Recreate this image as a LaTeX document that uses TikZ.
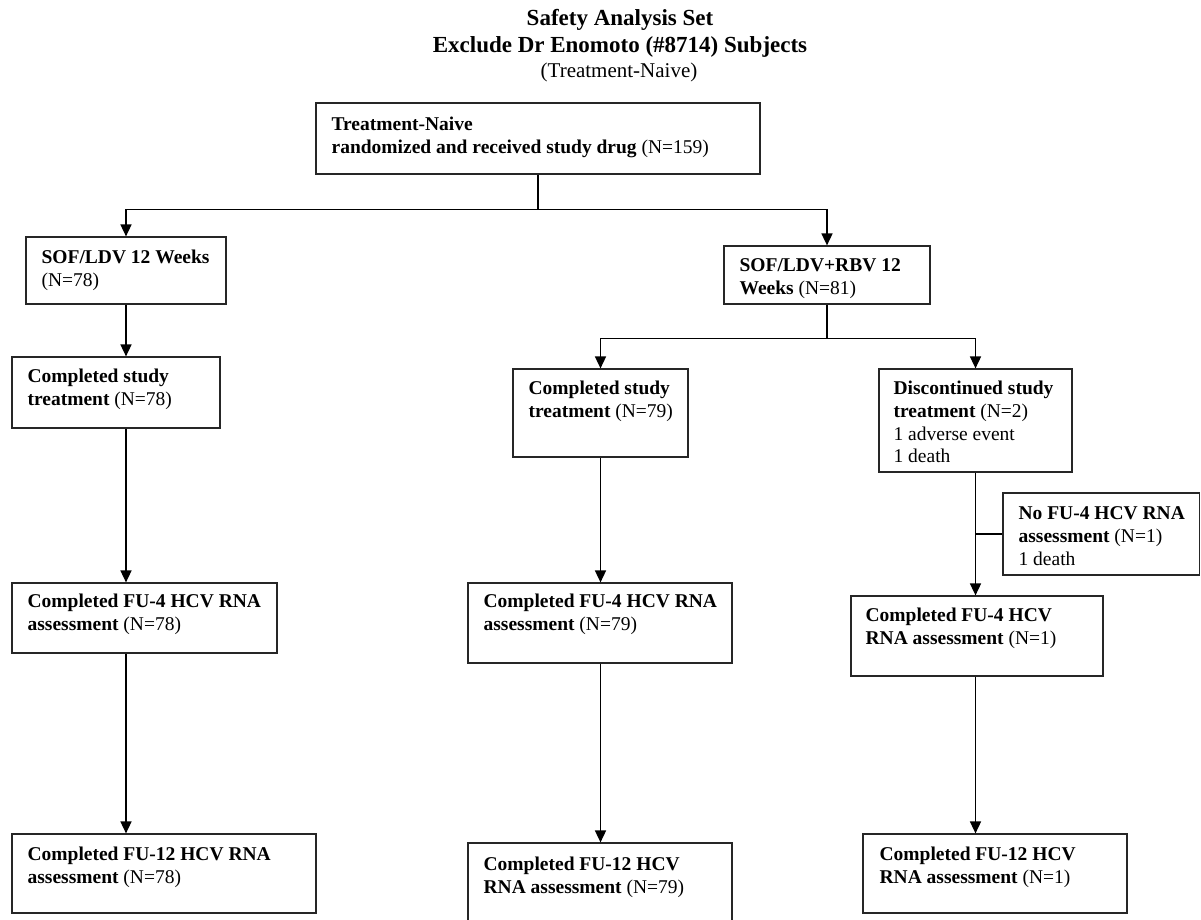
\documentclass[tikz,border=0pt]{standalone}
\usepackage{fontspec}
\setmainfont{Liberation Serif}
\usetikzlibrary{arrows.meta,fit}
\begin{document}
\begin{tikzpicture}[x=1pt,y=-1pt,
  box/.style={draw=black!85, line width=1.2pt, inner sep=0pt},
  txt/.style={anchor=north west, inner sep=0pt, align=left,
              font=\fontsize{19.5}{22.8}\selectfont},
  ttl/.style={anchor=base, inner sep=0pt, font=\fontsize{23}{26}\selectfont},
  link/.style={line width=1.6pt},
  arr/.style={link, -{Triangle[length=12pt,width=11pt]}}]
\useasboundingbox (0,0) rectangle (1201,919);

% heading
\node[ttl] (title1) at (620,25) {\textbf{Safety Analysis Set}};
\node[ttl] (title2) at (620,52) {\textbf{Exclude Dr Enomoto (\#8714) Subjects}};
\node[ttl, font=\fontsize{21}{24}\selectfont] (title3) at (619,77) {(Treatment-Naive)};

% boxes
\node[box, fit={(316,103) (760,174)}] (top) {};
\node[box, fit={(26,237) (226,304)}] (sl) {};
\node[box, fit={(12,357) (220,428)}] (slc) {};
\node[box, fit={(12,583) (277,653)}] (slf4) {};
\node[box, fit={(12,834) (316,913)}] (slf12) {};
\node[box, fit={(724,246) (930,304)}] (sr) {};
\node[box, fit={(513,369) (688,457)}] (src) {};
\node[box, fit={(468,583) (732,663)}] (srf4) {};
\node[box, fit={(468,843) (732,925)}] (srf12) {};
\node[box, fit={(879,369) (1072,472)}] (srd) {};
\node[box, fit={(1003,493) (1199.5,575)}] (nofu) {};
\node[box, fit={(851,596) (1103,676)}] (srdf4) {};
\node[box, fit={(863,834) (1127,913)}] (srdf12) {};

% box texts
\node[txt] (topT) at ([shift={(16,12)}]top.north west)
  {\strut\textbf{Treatment-Naive}\\\textbf{randomized and received study drug} (N=159)};
\node[txt] (slT) at ([shift={(16,11)}]sl.north west)
  {\strut\textbf{SOF/LDV 12 Weeks}\\(N=78)};
\node[txt] (slcT) at ([shift={(16,10)}]slc.north west)
  {\strut\textbf{Completed study}\\\textbf{treatment} (N=78)};
\node[txt] (slf4T) at ([shift={(16,9)}]slf4.north west)
  {\strut\textbf{Completed FU-4 HCV RNA}\\\textbf{assessment} (N=78)};
\node[txt] (slf12T) at ([shift={(16,11)}]slf12.north west)
  {\strut\textbf{Completed FU-12 HCV RNA}\\\textbf{assessment} (N=78)};
\node[txt] (srT) at ([shift={(16,10)}]sr.north west)
  {\strut\textbf{SOF/LDV+RBV 12}\\\textbf{Weeks} (N=81)};
\node[txt] (srcT) at ([shift={(16,10)}]src.north west)
  {\strut\textbf{Completed study}\\\textbf{treatment} (N=79)};
\node[txt] (srf4T) at ([shift={(16,9)}]srf4.north west)
  {\strut\textbf{Completed FU-4 HCV RNA}\\\textbf{assessment} (N=79)};
\node[txt] (srf12T) at ([shift={(16,12)}]srf12.north west)
  {\strut\textbf{Completed FU-12 HCV}\\\textbf{RNA assessment} (N=79)};
\node[txt] (srdT) at ([shift={(15,10)}]srd.north west)
  {\strut\textbf{Discontinued study}\\\textbf{treatment} (N=2)\\1 adverse event\\1 death};
\node[txt] (nofuT) at ([shift={(16,11)}]nofu.north west)
  {\strut\textbf{No FU-4 HCV RNA}\\\textbf{assessment} (N=1)\\1 death};
\node[txt] (srdf4T) at ([shift={(15,10)}]srdf4.north west)
  {\strut\textbf{Completed FU-4 HCV}\\\textbf{RNA assessment} (N=1)};
\node[txt] (srdf12T) at ([shift={(17,11)}]srdf12.north west)
  {\strut\textbf{Completed FU-12 HCV}\\\textbf{RNA assessment} (N=1)};

% split below the top box
\draw[link] (top.south) -- ++(0,35) coordinate (j1);
\draw[arr] (j1) -| (sl.north);
\draw[arr] (j1) -| (sr.north);

% left arm
\draw[arr] (sl.south) -- (sl.south |- slc.north);
\draw[arr] (slc.south -| sl.south) -- (sl.south |- slf4.north);
\draw[arr] (slf4.south -| sl.south) -- (sl.south |- slf12.north);

% right arm split
\draw[link] (sr.south) -- ++(0,34) coordinate (j2);
\draw[arr] (j2) -| (src.north);
\draw[arr] (j2) -| (srd.north);

% completed branch
\draw[arr] (src.south) -- (src.south |- srf4.north);
\draw[arr] (srf4.south -| src.south) -- (src.south |- srf12.north);

% discontinued branch
\draw[arr] (srd.south) -- (srd.south |- srdf4.north);
\draw[link] (nofu.west -| srd.south) -- (nofu.west);
\draw[arr] (srdf4.south -| srd.south) -- (srd.south |- srdf12.north);
\end{tikzpicture}
\end{document}
